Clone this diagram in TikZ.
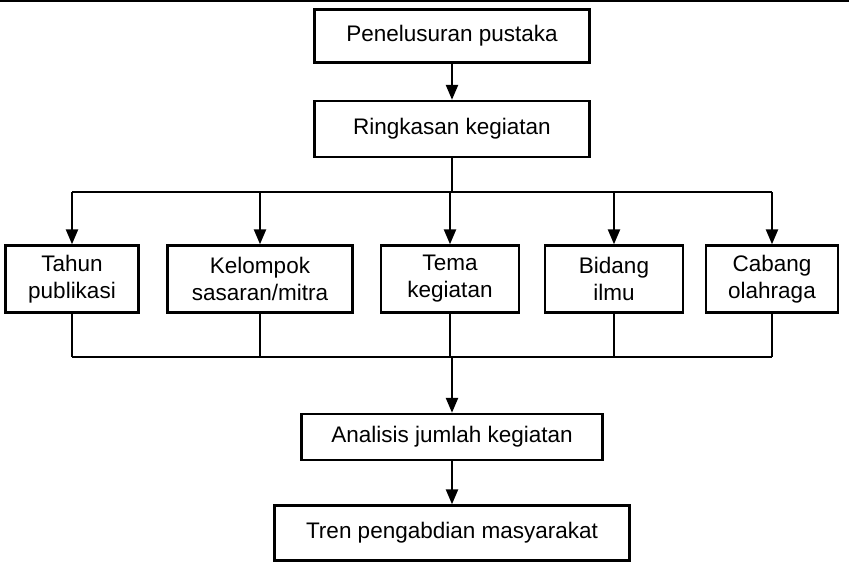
\documentclass[tikz,border=0pt]{standalone}
\usepackage{fontspec}
\setmainfont{Liberation Sans}
\usetikzlibrary{arrows.meta}

\begin{document}
\begin{tikzpicture}[x=1pt,y=-1pt,>={Triangle[length=15pt,width=12pt]},line width=2.4pt]

	\tikzstyle{blok} = [rectangle, draw=black, fill=white, align=center, inner sep=0pt, font=\fontsize{22.5}{27}\selectfont]

	\useasboundingbox (0,0) rectangle (849,566);
	\draw (0,1) -- (849,1);

	\node [blok, minimum width=275pt, minimum height=53pt] (pustaka) at (452,36) {Penelusuran pustaka};
	\node [blok, minimum width=275pt, minimum height=56pt] (ringkas) at (452,129) {Ringkasan kegiatan};

	\node [blok, minimum width=133pt, minimum height=67pt] (tahun)  at (72,279)  {Tahun\\publikasi};
	\node [blok, minimum width=185pt, minimum height=67pt] (mitra)  at (260,279) {Kelompok\\sasaran/mitra};
	\node [blok, minimum width=138pt, minimum height=67pt] (tema)   at (450,279) {Tema\\kegiatan};
	\node [blok, minimum width=138pt, minimum height=67pt] (bidang) at (614,279) {Bidang\\ilmu};
	\node [blok, minimum width=132pt, minimum height=67pt] (cabang) at (772,279) {Cabang\\olahraga};

	\node [blok, minimum width=301pt, minimum height=46pt] (analisis) at (452,437) {Analisis jumlah kegiatan};
	\node [blok, minimum width=355pt, minimum height=55pt] (tren)     at (452,533) {Tren pengabdian masyarakat};

	\coordinate (atas)  at (452,192);
	\coordinate (bawah) at (452,357);

	\draw [->] (pustaka) -- (ringkas);
	\draw (ringkas) -- (atas);
	\draw (tahun.north |- atas) -- (cabang.north |- atas);
	\foreach \n in {tahun,mitra,tema,bidang,cabang}
		\draw [->] (\n.north |- atas) -- (\n);
	\draw (tahun.north |- bawah) -- (cabang.north |- bawah);
	\foreach \n in {tahun,mitra,bidang,cabang}
		\draw (\n) -- (\n.south |- bawah);
	\draw (tema.south) -- (tema.south |- bawah);
	\draw [->] (bawah) -- (analisis);
	\draw [->] (analisis) -- (tren);
\end{tikzpicture}
\end{document}
